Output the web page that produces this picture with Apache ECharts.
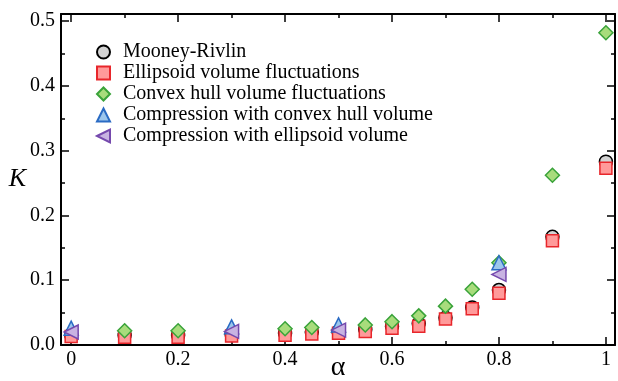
<!DOCTYPE html>
<html>
<head>
<meta charset="utf-8">
<script src="https://cdn.jsdelivr.net/npm/echarts@6/dist/echarts.min.js"></script>
<style>
  html, body { margin: 0; padding: 0; background: #fff; }
  #main { width: 618px; height: 381px; }
</style>
</head>
<body>
<div id="main"></div>
<script>
// data
var alphaMR = [0, 0.1, 0.2, 0.3, 0.4, 0.45, 0.5, 0.55, 0.6, 0.65, 0.7, 0.75, 0.8, 0.9, 1.0];
var mooneyRivlin = [0.016, 0.015, 0.015, 0.017, 0.018, 0.02, 0.021, 0.024, 0.029, 0.033, 0.042, 0.058, 0.085, 0.167, 0.283];
var ellipsoidFluct = [0.013, 0.012, 0.012, 0.014, 0.015, 0.017, 0.018, 0.021, 0.026, 0.029, 0.04, 0.056, 0.08, 0.161, 0.273];
var alphaHull = [0.1, 0.2, 0.4, 0.45, 0.55, 0.6, 0.65, 0.7, 0.75, 0.8, 0.9, 1.0];
var hullFluct = [0.022, 0.022, 0.025, 0.027, 0.031, 0.036, 0.045, 0.06, 0.086, 0.127, 0.262, 0.482];
var alphaComp = [0, 0.3, 0.5, 0.8];
var compHull = [0.026, 0.028, 0.031, 0.127];
var compEllipsoid = [0.02, 0.021, 0.023, 0.109];

var xMajor = [0, 0.2, 0.4, 0.6, 0.8, 1];
var xMinor = [0.1, 0.3, 0.5, 0.7, 0.9];
var yMajor = [0, 0.1, 0.2, 0.3, 0.4, 0.5];
var yMinor = [0.05, 0.15, 0.25, 0.35, 0.45];

function pairs(xs, ys) {
    return xs.map(function (x, i) { return [x, ys[i]]; });
}

var font = 'Liberation Serif';
var gridBox = {left: 61, top: 14, right: 3, bottom: 36, outerBoundsMode: 'none', containLabel: false};
var leftTri = 'path://M0,5L10,0L10,10Z';

function xAx(grid, pos, ticks, len, labels) {
    return {
        type: 'value', gridIndex: grid, position: pos,
        min: -0.019, max: 1.017,
        axisLine: {show: grid === 0, onZero: false, lineStyle: {color: '#000', width: 2}},
        axisTick: {show: true, inside: true, length: len, customValues: ticks,
                   lineStyle: {color: '#000', width: 1.5}},
        axisLabel: {show: labels, customValues: ticks, margin: 5,
                    fontFamily: font, fontSize: 20, color: '#000',
                    formatter: function (v) { return String(+v.toFixed(1)); }},
        splitLine: {show: false},
        name: labels ? 'α' : '', nameLocation: 'middle', nameGap: 9, nameMoveOverlap: false,
        nameTextStyle: {fontFamily: font, fontSize: 28, color: '#000', verticalAlign: 'top'}
    };
}

function yAx(grid, pos, ticks, len, labels) {
    return {
        type: 'value', gridIndex: grid, position: pos,
        min: 0, max: 0.511,
        axisLine: {show: grid === 0, onZero: false, lineStyle: {color: '#000', width: 2}},
        axisTick: {show: true, inside: true, length: len, customValues: ticks,
                   lineStyle: {color: '#000', width: 1.5}},
        axisLabel: {show: labels, customValues: ticks, margin: 6,
                    fontFamily: font, fontSize: 20, color: '#000',
                    formatter: function (v) { return v.toFixed(1); }},
        splitLine: {show: false},
        name: labels ? 'K' : '', nameLocation: 'middle', nameGap: 35, nameRotate: 0,
        nameMoveOverlap: false,
        nameTextStyle: {fontFamily: font, fontSize: 26, fontStyle: 'italic', color: '#000'}
    };
}

function scatter(name, data, symbol, size, fill, stroke) {
    return {
        name: name, type: 'scatter', data: data,
        xAxisIndex: 0, yAxisIndex: 0,
        symbol: symbol, symbolSize: size,
        itemStyle: {color: fill, borderColor: stroke, borderWidth: 1.5, opacity: 1}
    };
}

var myChart = echarts.init(document.getElementById('main'));

var option = {
    animation: false,
    grid: [
        Object.assign({}, gridBox),
        Object.assign({}, gridBox)
    ],
    xAxis: [
        xAx(0, 'bottom', xMajor, 8, true),
        xAx(0, 'top', xMajor, 8, false),
        xAx(1, 'bottom', xMinor, 4, false),
        xAx(1, 'top', xMinor, 4, false)
    ],
    yAxis: [
        yAx(0, 'left', yMajor, 8, true),
        yAx(0, 'right', yMajor, 8, false),
        yAx(1, 'left', yMinor, 4, false),
        yAx(1, 'right', yMinor, 4, false)
    ],
    legend: {
        orient: 'vertical', left: 91, top: 37,
        itemWidth: 13, itemHeight: 13, itemGap: 1,
        textStyle: {fontFamily: font, fontSize: 20, lineHeight: 20, color: '#000', padding: [0, 0, 0, 8]},
        data: ['Mooney-Rivlin', 'Ellipsoid volume fluctuations', 'Convex hull volume fluctuations',
               'Compression with convex hull volume', 'Compression with ellipsoid volume']
    },
    series: [
        scatter('Mooney-Rivlin', pairs(alphaMR, mooneyRivlin), 'circle', 13, '#d3d3d3', '#000'),
        scatter('Ellipsoid volume fluctuations', pairs(alphaMR, ellipsoidFluct), 'rect', 12, '#ff9a9a', '#e8262b'),
        scatter('Convex hull volume fluctuations', pairs(alphaHull, hullFluct), 'diamond', 14, '#a8dc7c', '#3aa33a'),
        scatter('Compression with convex hull volume', pairs(alphaComp, compHull), 'triangle', 14, '#9cc6ec', '#2a6bc4'),
        scatter('Compression with ellipsoid volume', pairs(alphaComp, compEllipsoid), leftTri, 14, '#c8b3e2', '#7549ad')
    ]
};
myChart.setOption(option);
</script>
</body>
</html>
